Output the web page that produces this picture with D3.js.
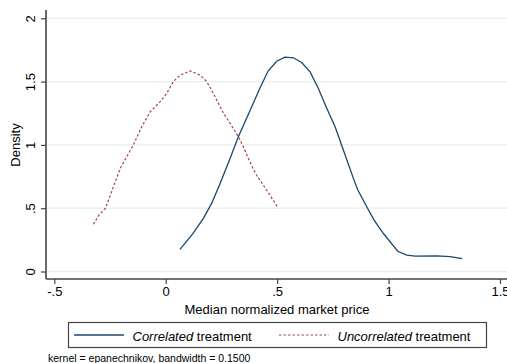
<!DOCTYPE html>
<html>
<head>
<meta charset="utf-8">
<script src="https://cdn.jsdelivr.net/npm/d3@7"></script>
<style>
  html, body { margin: 0; padding: 0; background: #fff; }
  svg { display: block; font-family: "Liberation Sans", Arial, Helvetica, sans-serif; }
</style>
</head>
<body>
<svg id="chart" width="507" height="363"></svg>
<script>
// Kernel density estimates of the median normalized market price
const correlatedX = [0.064, 0.12, 0.169, 0.206, 0.244, 0.286, 0.326, 0.378, 0.423, 0.46, 0.498, 0.535, 0.573, 0.61, 0.648, 0.685, 0.723, 0.76, 0.797, 0.845, 0.862, 0.902, 0.935, 0.977, 1.041, 1.082, 1.119, 1.216, 1.276, 1.331];
const correlatedDensity = [0.175, 0.295, 0.42, 0.538, 0.696, 0.88, 1.064, 1.27, 1.45, 1.585, 1.661, 1.693, 1.688, 1.651, 1.577, 1.446, 1.288, 1.143, 0.959, 0.722, 0.643, 0.511, 0.406, 0.30, 0.16, 0.13, 0.122, 0.124, 0.117, 0.101];

const uncorrelatedX = [-0.325, -0.299, -0.27, -0.235, -0.202, -0.145, -0.108, -0.07, -0.048, -0.026, 0.004, 0.034, 0.064, 0.109, 0.154, 0.184, 0.214, 0.236, 0.259, 0.289, 0.326, 0.348, 0.371, 0.393, 0.408, 0.453, 0.505];
const uncorrelatedDensity = [0.373, 0.447, 0.5, 0.67, 0.822, 1.0, 1.143, 1.26, 1.30, 1.34, 1.406, 1.50, 1.55, 1.585, 1.551, 1.50, 1.406, 1.33, 1.25, 1.17, 1.064, 0.985, 0.893, 0.81, 0.76, 0.643, 0.50];

const xTicks = [-0.5, 0, 0.5, 1, 1.5];
const xTickLabels = ["-.5", "0", ".5", "1", "1.5"];
const yTicks = [0, 0.5, 1, 1.5, 2];
const yTickLabels = ["0", ".5", "1", "1.5", "2"];

const xTitle = "Median normalized market price";
const yTitle = "Density";
const noteText = "kernel = epanechnikov, bandwidth = 0.1500";

const svg = d3.select("#chart");

const plotLeft = 46, plotRight = 507, plotTop = 10, plotBottom = 279;

const x = d3.scaleLinear().domain([-0.5, 1.5]).range([54.3, 500]);
const y = d3.scaleLinear().domain([0, 2]).range([271.5, 18.3]);

// horizontal grid lines
svg.append("g")
  .selectAll("line")
  .data(yTicks)
  .join("line")
  .attr("x1", plotLeft).attr("x2", plotRight)
  .attr("y1", d => y(d)).attr("y2", d => y(d))
  .attr("stroke", "#e6eeee")
  .attr("stroke-width", 1.3);

// y axis
const yAxis = svg.append("g")
  .attr("transform", `translate(${plotLeft},0)`)
  .call(d3.axisLeft(y).tickValues(yTicks).tickFormat((d, i) => yTickLabels[i]).tickSize(5).tickPadding(0));
yAxis.select(".domain").remove();
yAxis.selectAll(".tick line").attr("stroke", "#444").attr("stroke-width", 1.2);
yAxis.selectAll(".tick text").remove();
yAxis.selectAll(".tick")
  .append("text")
  .attr("transform", "translate(-11,0) rotate(-90)")
  .attr("text-anchor", "middle")
  .attr("fill", "#000")
  .attr("font-size", 13)
  .text((d, i) => yTickLabels[i]);
svg.append("line")
  .attr("x1", plotLeft).attr("x2", plotLeft)
  .attr("y1", plotTop).attr("y2", plotBottom)
  .attr("stroke", "#444").attr("stroke-width", 1.6);

// x axis
const xAxis = svg.append("g")
  .attr("transform", `translate(0,${plotBottom})`)
  .call(d3.axisBottom(x).tickValues(xTicks).tickFormat((d, i) => xTickLabels[i]).tickSize(5).tickPadding(3));
xAxis.select(".domain").remove();
xAxis.selectAll(".tick line").attr("stroke", "#444").attr("stroke-width", 1.2);
xAxis.selectAll(".tick text")
  .attr("font-size", 13)
  .attr("fill", "#000")
  .attr("font-family", "Liberation Sans, Arial, sans-serif");
svg.append("line")
  .attr("x1", plotLeft).attr("x2", plotRight)
  .attr("y1", plotBottom).attr("y2", plotBottom)
  .attr("stroke", "#444").attr("stroke-width", 1.6);

// axis titles
svg.append("text")
  .attr("x", 277)
  .attr("y", 314)
  .attr("text-anchor", "middle")
  .attr("font-size", 13)
  .text(xTitle);
svg.append("text")
  .attr("transform", "translate(19.5,145) rotate(-90)")
  .attr("text-anchor", "middle")
  .attr("font-size", 13)
  .text(yTitle);

// density curves
const line = d3.line().x(d => x(d[0])).y(d => y(d[1]));
const corr = correlatedX.map((v, i) => [v, correlatedDensity[i]]);
const uncorr = uncorrelatedX.map((v, i) => [v, uncorrelatedDensity[i]]);

svg.append("path")
  .datum(corr)
  .attr("d", line)
  .attr("fill", "none")
  .attr("stroke", "#1a476f")
  .attr("stroke-width", 1.3);

svg.append("path")
  .datum(uncorr)
  .attr("d", line)
  .attr("fill", "none")
  .attr("stroke", "#a2454a")
  .attr("stroke-width", 1.2)
  .attr("stroke-dasharray", "2.5,2");

// legend
const legend = svg.append("g");
legend.append("rect")
  .attr("x", 68.5).attr("y", 322.5)
  .attr("width", 418).attr("height", 25)
  .attr("fill", "#fff")
  .attr("stroke", "#444")
  .attr("stroke-width", 1.2);

legend.append("line")
  .attr("x1", 74).attr("x2", 124).attr("y1", 335).attr("y2", 335)
  .attr("stroke", "#1a476f").attr("stroke-width", 1.3);
const t1 = legend.append("text").attr("x", 132.5).attr("y", 340.5).attr("font-size", 13);
t1.append("tspan").attr("font-style", "italic").text("Correlated");
t1.append("tspan").text(" treatment");

legend.append("line")
  .attr("x1", 279).attr("x2", 329).attr("y1", 335).attr("y2", 335)
  .attr("stroke", "#a2454a").attr("stroke-width", 1.2)
  .attr("stroke-dasharray", "2.5,2");
const t2 = legend.append("text").attr("x", 337.5).attr("y", 340.5).attr("font-size", 13);
t2.append("tspan").attr("font-style", "italic").text("Uncorrelated");
t2.append("tspan").text(" treatment");

// note
svg.append("text")
  .attr("x", 48)
  .attr("y", 362)
  .attr("font-size", 10.5)
  .text(noteText);
</script>
</body>
</html>
